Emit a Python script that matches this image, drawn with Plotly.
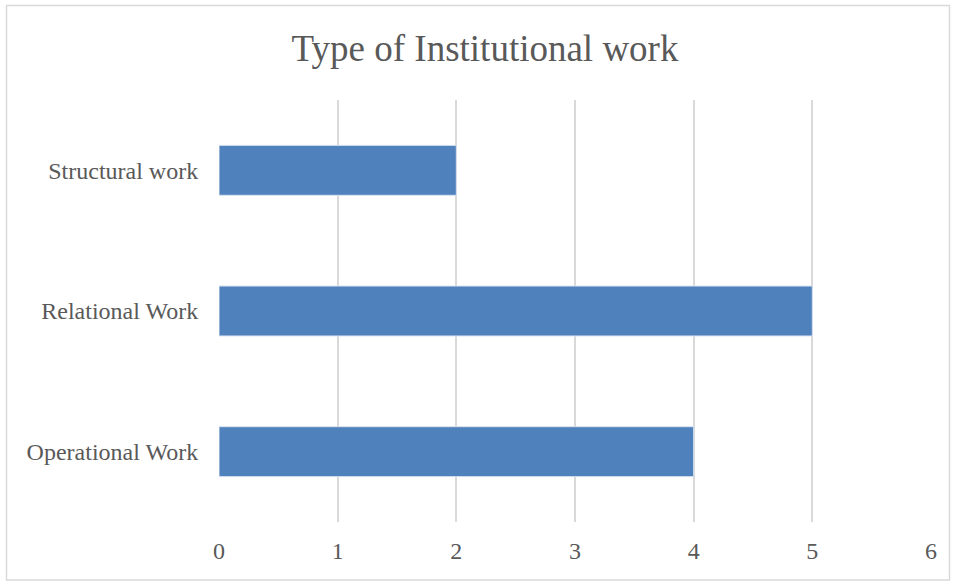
import plotly.graph_objects as go

categories = ["Operational Work", "Relational Work", "Structural work"]
values = [4, 5, 2]
x_ticks = [0, 1, 2, 3, 4, 5, 6]

W, H = 956, 582
L, R, T, B = 219, 25, 100, 60
pw, ph = W - L - R, H - T - B

def px_to_paper_x(px):
    return (px - L) / pw

def px_to_paper_y(py):
    return (H - B - py) / ph

fig = go.Figure()
fig.add_trace(go.Bar(
    y=categories, x=values, orientation="h",
    marker=dict(color="#4f81bd", line=dict(color="#d9e3f0", width=1)),
    width=0.355,
))

font_family = "Liberation Serif, Times New Roman, serif"
fig.update_layout(
    width=W, height=H,
    margin=dict(l=L, r=R, t=T, b=B),
    paper_bgcolor="white", plot_bgcolor="white",
    showlegend=False,
    title=dict(text="Type of Institutional work", x=485 / W, xanchor="center",
               y=1 - 48 / H, yanchor="middle",
               font=dict(family=font_family, size=37, color="#595959")),
    font=dict(family=font_family, color="#595959"),
    xaxis=dict(range=[0, 6], tickvals=x_ticks, showgrid=True, gridcolor="#d9d9d9",
               gridwidth=1.5, zeroline=False, showline=False,
               tickfont=dict(size=24, color="#595959"), ticks="outside",
               ticklen=7, tickcolor="rgba(0,0,0,0)"),
    yaxis=dict(range=[-0.5, 2.5], showgrid=False, zeroline=False, showline=False,
               tickfont=dict(size=24, color="#595959"), ticks="outside",
               ticklen=15, tickcolor="rgba(0,0,0,0)"),
    shapes=[dict(type="rect", xref="paper", yref="paper",
                 x0=px_to_paper_x(6.5), x1=px_to_paper_x(949.5),
                 y0=px_to_paper_y(580), y1=px_to_paper_y(5.5),
                 line=dict(color="#d9d9d9", width=1.5), fillcolor="rgba(0,0,0,0)",
                 layer="below")],
)
fig.update_xaxes(layer="below traces")
fig.write_html("out.html")
